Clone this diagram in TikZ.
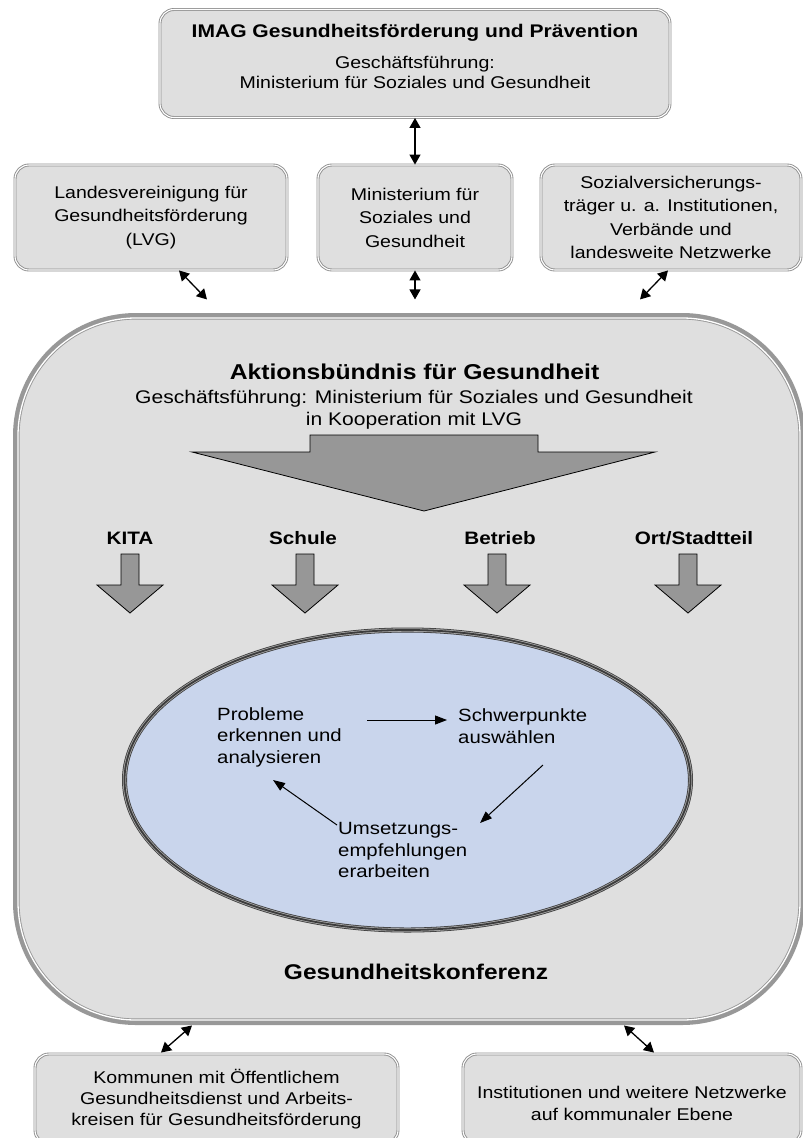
\documentclass[tikz,border=0pt]{standalone}
\usepackage{fontspec}
\setmainfont{Liberation Sans}[FakeStretch=1.15]
\usetikzlibrary{arrows.meta,shapes.geometric,calc}
\definecolor{boxfill}{HTML}{DFDFDF}
\definecolor{boxline}{HTML}{8F8F8F}
\definecolor{contline}{HTML}{989898}
\definecolor{ellfill}{HTML}{C9D5EC}
\definecolor{elldark}{HTML}{3C3C3C}
\definecolor{elllight}{HTML}{A8A8A8}
\definecolor{arrfill}{HTML}{979797}
\newcommand\fsz[2]{\fontsize{#1}{#2}\selectfont}
\begin{document}
\begin{tikzpicture}[x=1pt,y=-1pt,
  box/.style={draw=boxline, line width=0.9pt, double=white, double distance=1.1pt,
    fill=boxfill, rounded corners=14pt, align=center, inner sep=0pt,
    font={\fsz{17}{23.5}}},
  container/.style={draw=contline, line width=0.9pt, double=white, double distance=1.3pt,
    fill=boxfill, rounded corners=118pt, inner sep=0pt,
    preaction={draw=contline, line width=10pt}},
  cycle ellipse/.style={ellipse, inner sep=0pt, preaction={fill=ellfill},
    draw=elldark, line width=5pt,
    postaction={draw=elllight, line width=3.4pt},
    postaction={draw=elldark, line width=1.8pt}},
  dbl/.style={{Triangle[length=10pt,width=11pt]}-{Triangle[length=10pt,width=11pt]}, line width=1.3pt},
  flow/.style={-{Triangle[length=12pt,width=9pt]}, line width=1pt},
  arrowshape/.style={fill=arrfill, draw=black, line width=0.8pt, line join=miter},
  steptext/.style={anchor=west, align=left, inner sep=0pt, font={\fsz{17.7}{21.5}}},
  setting/.style={font={\fsz{18}{21}\bfseries}, inner sep=0pt},
  pics/downarr/.style={code={
    \draw[arrowshape] (-9,0) -- (9,0) -- (9,31) -- (33,31) -- (0,59) -- (-33,31) -- (-9,31) -- cycle;}}
]
\useasboundingbox (0,0) rectangle (803,1138);
\fill[white] (0,0) rectangle (803,1138);
\clip (0,0) rectangle (803,1138);

% top box
\node[box, minimum width=510pt, minimum height=108pt] (imag) at (415,63.5) {};
\node[inner sep=0pt, font={\fsz{18.3}{22}\bfseries}] (imagtitle) at (415,33) {IMAG Gesundheitsförderung und Prävention};
\node[inner sep=0pt, align=center, font={\fsz{17}{20}}] (imagsub) at (415,72) {Geschäftsführung:\\Ministerium für Soziales und Gesundheit};

% middle boxes
\node[box, minimum width=272pt, minimum height=105pt] (lvg) at (151,217.5)
  {Landesvereinigung für\\Gesundheitsförderung\\(LVG)};
\node[box, minimum width=194pt, minimum height=105pt] (min) at (415,217.5)
  {Ministerium für\\Soziales und\\Gesundheit};
\node[box, minimum width=260pt, minimum height=105pt] (soz) at (671,217.5)
  {Sozialversicherungs-\\träger u. a. Institutionen,\\Verbände und\\landesweite Netzwerke};

% container
\node[container, minimum width=782pt, minimum height=702pt] (gk) at (409,669) {};
\node[inner sep=0pt, font={\fsz{21.5}{25}\bfseries}] (aktion) at (414.5,372) {Aktionsbündnis für Gesundheit};
\node[inner sep=0pt, align=center, font={\fsz{18.3}{22}}] (aktionsub) at (414,410)
  {Geschäftsführung: Ministerium für Soziales und Gesundheit\\in Kooperation mit LVG};
\node[inner sep=0pt, font={\fsz{21.3}{25}\bfseries}] (konf) at (416,972) {Gesundheitskonferenz};

% big arrow
\draw[arrowshape] (192,452) -- (310,452) -- (310,435) -- (538,435) -- (538,452) -- (655,452) -- (424,511) -- cycle;

% settings
\node[setting] (kita) at (130,538) {KITA};
\node[setting] (schule) at (303,538) {Schule};
\node[setting] (betrieb) at (500,538) {Betrieb};
\node[setting] (ort) at (694,538) {Ort/Stadtteil};
\pic at (130,554) {downarr};
\pic at (305,554) {downarr};
\pic at (497,554) {downarr};
\pic at (688,554) {downarr};

% ellipse
\node[cycle ellipse, minimum width=566pt, minimum height=300pt] (ell) at (407.5,780) {};
\node[steptext] (prob) at (217,737) {Probleme\\erkennen und\\analysieren};
\node[steptext] (schw) at (458,726) {Schwerpunkte\\auswählen};
\node[steptext] (ums) at (338,850) {Umsetzungs-\\empfehlungen\\erarbeiten};
\draw[flow] ($(prob.west)+(150,-17)$) -- ($(schw.west)+(-11,-6)$);
\draw[flow] ($(schw.west)+(85,39)$) -- ($(ums.west)+(142,-27)$);
\draw[flow] ($(ums.west)+(-1,-25)$) -- ($(prob.west)+(56,43)$);

% bottom boxes
\node[box, minimum width=363pt, minimum height=90pt, font={\fsz{17}{21}}] (kom) at (216.5,1099)
  {Kommunen mit Öffentlichem\\Gesundheitsdienst und Arbeits-\\kreisen für Gesundheitsförderung};
\node[box, minimum width=338pt, minimum height=90pt, font={\fsz{17}{21.5}}] (ins) at (632,1099)
  {\mbox{}\\Institutionen und weitere Netzwerke\\auf kommunaler Ebene};

% connectors
\coordinate (lvgend) at ($(lvg.south)+(56,29)$);
\coordinate (minend) at ($(min.south)+(0,29)$);
\coordinate (sozend) at ($(soz.south)+(-31,29)$);
\coordinate (komstart) at ($(gk.south)+(-217,5)$);
\coordinate (insstart) at ($(gk.south)+(215,5)$);
\draw[dbl] (imag.south) -- (min.north);
\draw[dbl] ($(lvg.south)+(28,0)$) -- (lvgend);
\draw[dbl] (min.south) -- (minend);
\draw[dbl] ($(soz.south)+(-3,0)$) -- (sozend);
\draw[dbl] (komstart) -- ($(kom.north)+(-55.5,-1)$);
\draw[dbl] (insstart) -- ($(ins.north)+(22,-1)$);
\end{tikzpicture}
\end{document}
